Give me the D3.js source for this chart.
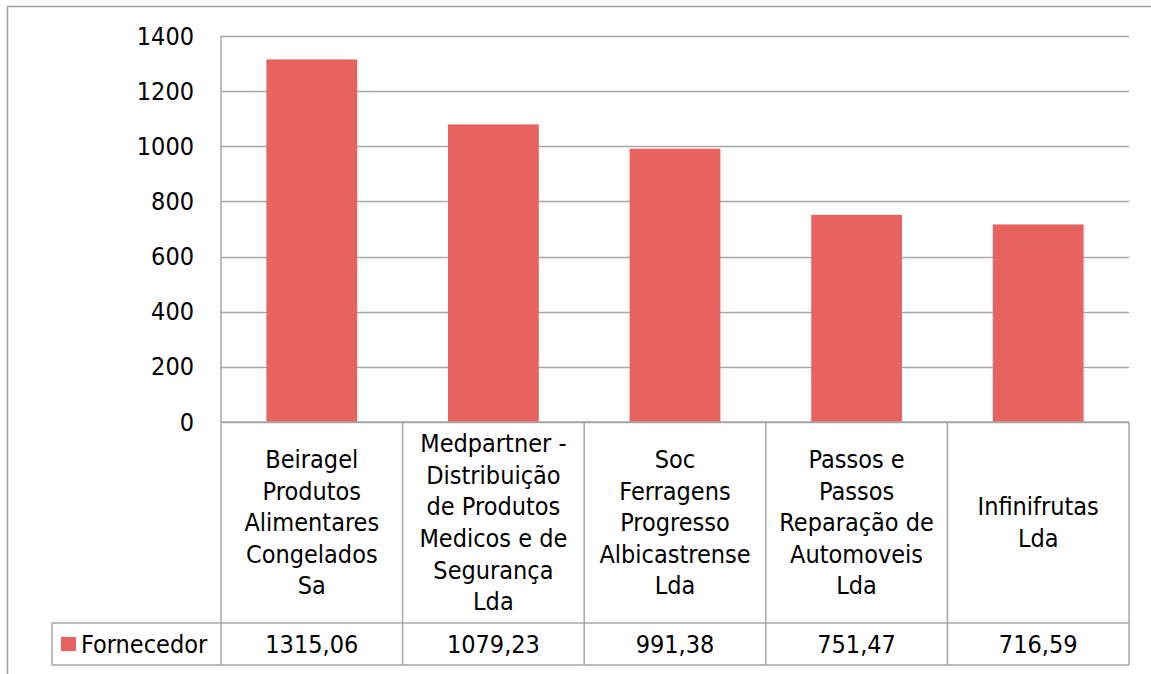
<!DOCTYPE html>
<html><head><meta charset="utf-8">
<script src="https://cdn.jsdelivr.net/npm/d3@7"></script>
<style>
html,body{margin:0;padding:0;background:#fff;}
svg{display:block;}
text{font-family:"DejaVu Sans Condensed","DejaVu Sans",sans-serif;font-stretch:condensed;fill:#000;}
</style></head>
<body><svg id="c" width="1151" height="674"></svg>
<script>
const categories = [
  ["Beiragel","Produtos","Alimentares","Congelados","Sa"],
  ["Medpartner -","Distribuição","de Produtos","Medicos e de","Segurança","Lda"],
  ["Soc","Ferragens","Progresso","Albicastrense","Lda"],
  ["Passos e","Passos","Reparação de","Automoveis","Lda"],
  ["Infinifrutas","Lda"]
];
const values = [1315.06, 1079.23, 991.38, 751.47, 716.59];
const valueLabels = ["1315,06","1079,23","991,38","751,47","716,59"];
const seriesName = "Fornecedor";
const yTicks = [0,200,400,600,800,1000,1200,1400];

const color = "#E8635F";
const gridColor = "#A6A6A6";
const fs = 25;

const svg = d3.select("#c");
const L = 221, R = 1129, T = 36, B = 422;
const row1B = 623, row2B = 665, legendL = 52;

// outer frame
svg.append("rect").attr("x",7.5).attr("y",6.5).attr("width",1160).attr("height",700)
  .attr("fill","none").attr("stroke","#A0A0A0").attr("stroke-width",1.5);

const x = d3.scaleBand().domain(d3.range(values.length)).range([L,R]).paddingInner(0).paddingOuter(0);
const y = d3.scaleLinear().domain([0,1400]).range([B,T]);

// gridlines
svg.append("g").selectAll("line").data(yTicks).join("line")
  .attr("x1",L).attr("x2",R).attr("y1",d=>Math.round(y(d))+0.5).attr("y2",d=>Math.round(y(d))+0.5)
  .attr("stroke",gridColor).attr("stroke-width",1.5);

// y axis labels
const yAxis = d3.axisLeft(y).tickValues(yTicks).tickSize(0).tickPadding(27).tickFormat(d3.format("d"));
const ga = svg.append("g").attr("transform",`translate(${L},0)`).call(yAxis);
ga.select(".domain").remove();
ga.selectAll("text").attr("font-size",fs).style("font-family",null).attr("font-family",null);

// bars
const bw = x.bandwidth()*0.5;
svg.append("g").selectAll("rect").data(values).join("rect")
  .attr("x",(d,i)=>x(i)+x.bandwidth()/2-bw/2).attr("width",bw)
  .attr("y",d=>y(d)).attr("height",d=>B-y(d)).attr("fill",color);

// table lines
const tl = svg.append("g").attr("stroke",gridColor).attr("stroke-width",1.5);
tl.append("line").attr("x1",L).attr("x2",L).attr("y1",T).attr("y2",row2B);
tl.append("line").attr("x1",L).attr("x2",R).attr("y1",B).attr("y2",B);
tl.append("line").attr("x1",legendL).attr("x2",R).attr("y1",row1B).attr("y2",row1B);
tl.append("line").attr("x1",legendL).attr("x2",R).attr("y1",row2B).attr("y2",row2B);
tl.append("line").attr("x1",legendL).attr("x2",legendL).attr("y1",row1B).attr("y2",row2B);
values.forEach((d,i)=>{
  const xx = x(i)+x.bandwidth();
  tl.append("line").attr("x1",xx).attr("x2",xx).attr("y1",B).attr("y2",row2B);
});

// category labels
const lh = 31.6;
const midY = (B+row1B)/2;
categories.forEach((lines,i)=>{
  const cx = x(i)+x.bandwidth()/2;
  const t = svg.append("text").attr("text-anchor","middle").attr("font-size",fs);
  const y0 = midY - (lines.length-1)*lh/2;
  lines.forEach((s,j)=>{
    t.append("tspan").attr("x",cx).attr("y",y0+j*lh).attr("dy","0.35em").text(s);
  });
});

// value row
const vy = (row1B+row2B)/2;
svg.append("g").selectAll("text").data(valueLabels).join("text")
  .attr("x",(d,i)=>x(i)+x.bandwidth()/2).attr("y",vy).attr("dy","0.35em")
  .attr("text-anchor","middle").attr("font-size",fs).text(d=>d);

// legend
svg.append("rect").attr("x",61).attr("y",637).attr("width",15).attr("height",14).attr("fill",color);
svg.append("text").attr("x",81).attr("y",vy).attr("dy","0.35em").attr("font-size",fs).text(seriesName);
</script></body></html>
